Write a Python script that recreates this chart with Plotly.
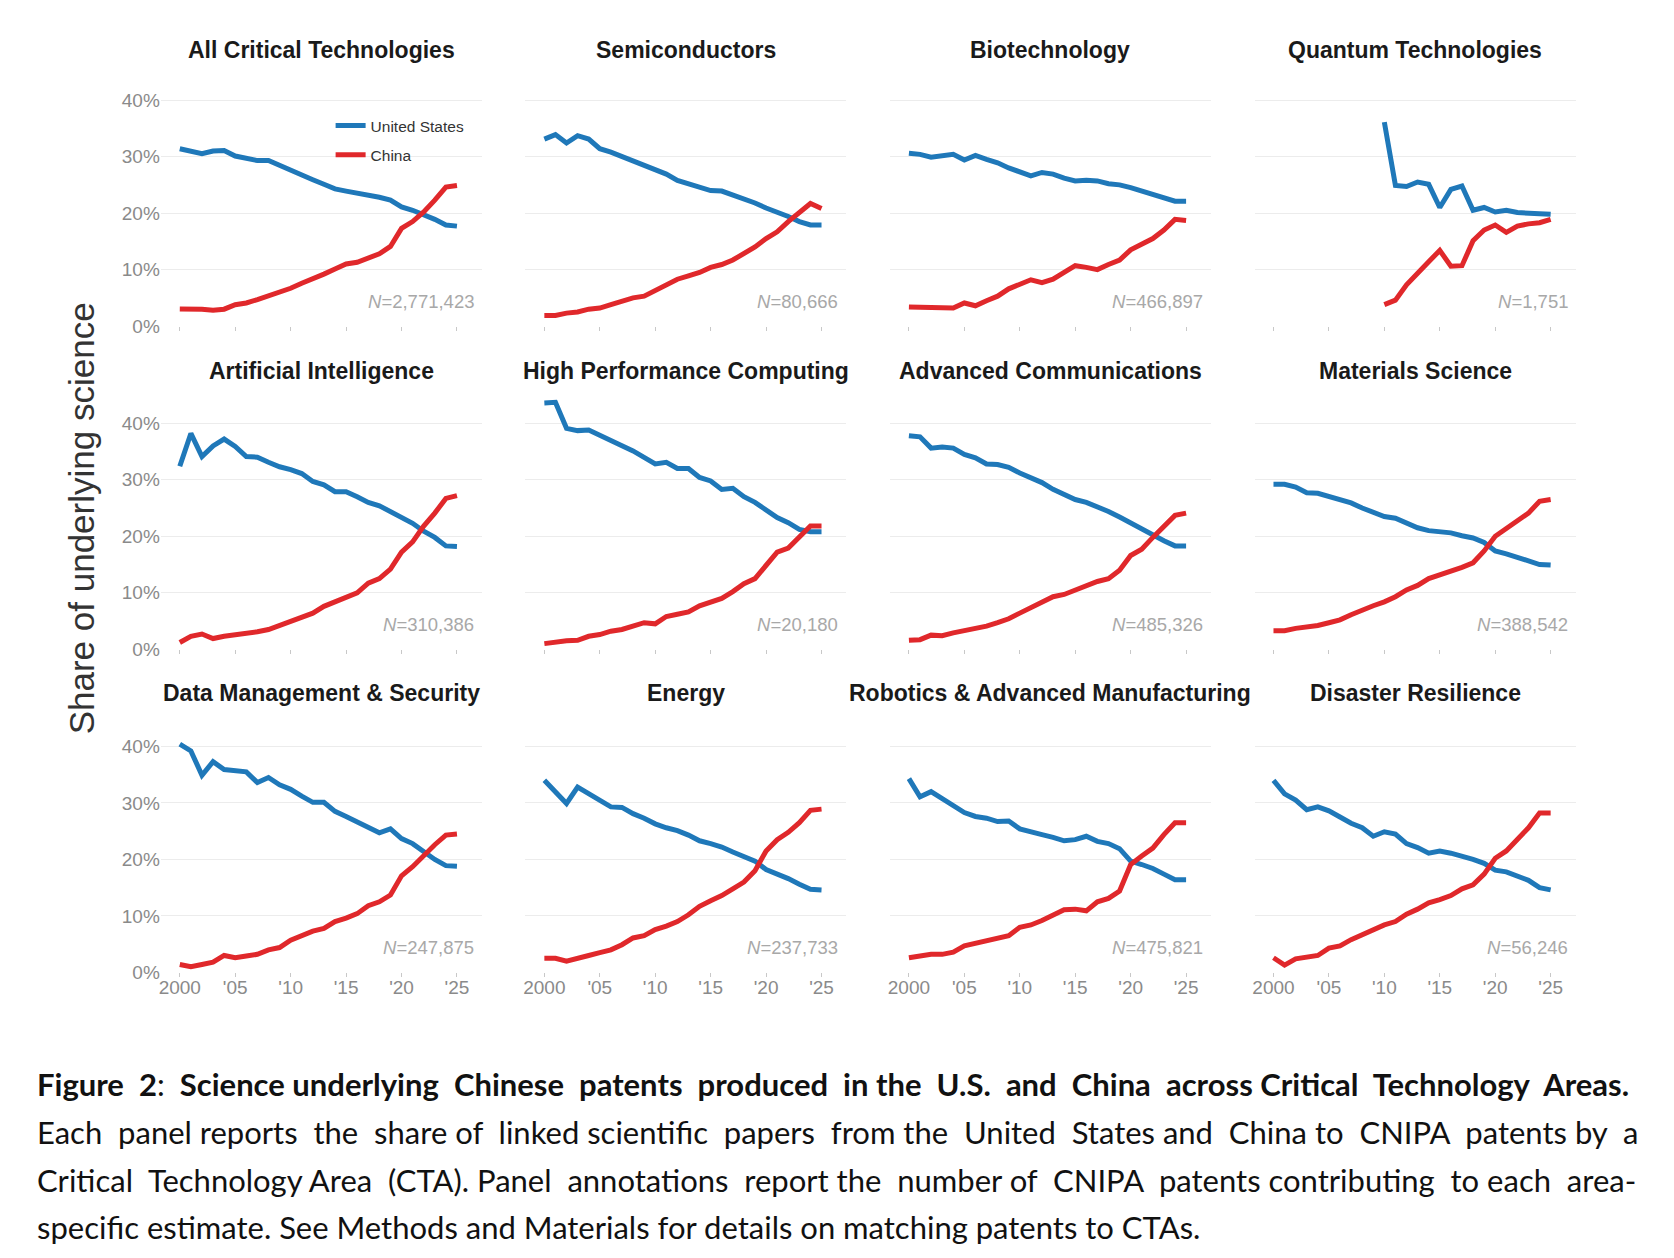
import plotly.graph_objects as go

# ---------------- data ----------------
years = list(range(2000, 2026))
x_tick_vals = [2000, 2005, 2010, 2015, 2020, 2025]
x_tick_text = ["2000", "'05", "'10", "'15", "'20", "'25"]
y_tick_vals = [0, 10, 20, 30, 40]
y_tick_text = ["0%", "10%", "20%", "30%", "40%"]

titles = [
    "All Critical Technologies", "Semiconductors", "Biotechnology", "Quantum Technologies",
    "Artificial Intelligence", "High Performance Computing", "Advanced Communications", "Materials Science",
    "Data Management & Security", "Energy", "Robotics & Advanced Manufacturing", "Disaster Resilience",
]
n_labels = [
    "2,771,423", "80,666", "466,897", "1,751",
    "310,386", "20,180", "485,326", "388,542",
    "247,875", "237,733", "475,821", "56,246",
]

us_all = [31.4, 31.0, 30.5, 31.0, 31.1, 30.1, 29.7, 29.3, 29.3, 28.4, 27.6, 26.7, 25.9,
          25.1, 24.3, 23.9, 23.6, 23.2, 22.8, 22.3, 21.1, 20.5, 19.8, 18.9, 17.9, 17.7]
cn_all = [3.05, 3.05, 3.0, 2.8, 3.0, 3.8, 4.1, 4.7, 5.3, 5.9, 6.7, 7.6, 8.3,
          9.2, 10.1, 11.0, 11.3, 12.0, 12.8, 14.1, 17.3, 18.5, 20.2, 22.3, 24.6, 24.9]

us_semi = [33.1, 33.9, 32.4, 33.7, 33.1, 31.4, 30.8, 30.0, 29.2, 28.4, 27.6, 26.9, 25.8,
           25.2, 24.6, 24.0, 23.9, 23.2, 22.6, 21.8, 20.9, 20.2, 19.4, 18.5, 17.9, 17.9]
cn_semi = [1.9, 1.9, 2.3, 2.5, 3.0, 3.2, 3.8, 4.4, 5.0, 5.3, 6.3, 7.3, 8.3,
           8.9, 9.5, 10.4, 10.9, 11.7, 12.8, 14.0, 15.5, 16.7, 18.5, 20.2, 21.7, 20.8]

us_bio = [30.6, 30.4, 29.9, 30.2, 30.4, 29.4, 30.2, 29.5, 28.9, 28.0, 27.3, 26.6, 27.2,
          26.9, 26.2, 25.7, 25.8, 25.7, 25.2, 25.0, 24.5, 23.9, 23.5, 22.9, 22.1, 22.1]
cn_bio = [3.4, 3.3, 3.4, 3.2, 3.2, 4.1, 3.6, 4.5, 5.3, 6.6, 7.3, 8.2, 7.7,
          8.3, 9.5, 10.7, 10.4, 10.0, 10.9, 11.7, 13.5, 14.5, 15.5, 17.0, 18.9, 18.7]

us_quantum = [None] * 10 + [36.1, 24.9, 24.7, 25.5, 25.1, 21.0, 24.2, 24.8, 20.5, 21.0,
                            20.2, 20.5, 20.1, 19.9, 19.9, 19.8]
cn_quantum = [None] * 10 + [3.8, 4.6, 7.3, 9.5, 11.4, 13.4, 10.6, 10.7, 15.1, 17.0,
                            17.9, 16.6, 17.7, 18.1, 18.3, 18.9]

us_ai = [32.4, 38.2, 34.1, 36.0, 37.2, 35.9, 34.1, 34.0, 33.1, 32.3, 31.8, 31.1, 29.7,
         29.1, 27.9, 27.9, 27.0, 26.0, 25.4, 24.4, 23.3, 22.3, 20.9, 19.8, 18.3, 18.2]
cn_ai = [1.2, 2.3, 2.7, 1.9, 2.3, 2.5, 2.8, 3.1, 3.5, 4.2, 4.9, 5.5, 6.4,
         7.6, 8.4, 9.1, 10.0, 11.7, 12.5, 14.2, 17.2, 19.0, 21.8, 24.1, 26.7, 27.2]

us_hpc = [43.6, 43.7, 39.1, 38.7, 38.8, 37.8, 36.8, 36.0, 35.1, 34.0, 32.8, 33.1, 32.0,
          32.0, 30.4, 29.8, 28.3, 28.5, 27.0, 26.0, 24.7, 23.3, 22.4, 21.2, 20.8, 20.8]
cn_hpc = [1.0, 1.3, 1.5, 1.6, 2.3, 2.6, 3.2, 3.5, 4.1, 4.7, 4.5, 5.8, 6.2,
          6.6, 7.7, 8.3, 9.0, 10.2, 11.6, 12.5, 14.8, 17.2, 17.9, 19.8, 21.8, 21.8]

us_comm = [37.8, 37.6, 35.6, 35.8, 35.6, 34.5, 33.9, 32.8, 32.7, 32.2, 31.2, 30.4, 29.5,
           28.3, 27.3, 26.5, 26.0, 25.3, 24.4, 23.4, 22.3, 21.3, 20.3, 19.2, 18.3, 18.3]
cn_comm = [1.6, 1.7, 2.5, 2.4, 2.9, 3.3, 3.6, 4.1, 4.7, 5.4, 6.4, 7.3, 8.3,
           9.3, 9.7, 10.5, 11.2, 12.0, 12.5, 14.0, 16.6, 17.7, 19.8, 21.8, 23.7, 24.1]

us_mat = [29.2, 29.2, 28.7, 27.7, 27.6, 27.0, 26.5, 25.9, 25.0, 24.3, 23.5, 23.2, 22.4,
          21.5, 21.0, 20.9, 20.6, 20.1, 19.7, 18.9, 17.4, 16.9, 16.2, 15.6, 15.0, 14.9]
cn_mat = [3.3, 3.3, 3.7, 3.9, 4.2, 4.7, 5.2, 6.1, 7.0, 7.7, 8.4, 9.3, 10.5,
          11.3, 12.5, 13.1, 13.7, 14.5, 15.3, 17.4, 20.0, 21.4, 22.6, 24.1, 26.2, 26.5]

us_data = [40.4, 39.2, 34.9, 37.3, 35.9, 35.8, 35.5, 33.6, 34.5, 33.2, 32.4, 31.2, 30.1,
           30.1, 28.5, 27.6, 26.6, 25.6, 24.7, 25.4, 23.7, 22.8, 21.3, 20.0, 18.9, 18.8]
cn_data = [1.4, 1.0, 1.4, 1.8, 3.0, 2.6, 2.9, 3.2, 4.0, 4.4, 5.7, 6.5, 7.3,
           7.8, 9.0, 9.6, 10.4, 11.8, 12.5, 13.7, 17.1, 18.7, 20.7, 22.6, 24.3, 24.5]

us_energy = [34.0, 31.9, 29.9, 32.8, 31.7, 30.5, 29.3, 29.2, 28.1, 27.3, 26.3, 25.6, 25.1,
             24.3, 23.3, 22.8, 22.2, 21.3, 20.6, 19.7, 18.2, 17.5, 16.6, 15.6, 14.7, 14.6]
cn_energy = [2.5, 2.5, 2.0, 2.6, 3.0, 3.5, 4.0, 4.9, 6.1, 6.5, 7.6, 8.2, 9.0,
             10.2, 11.7, 12.7, 13.6, 14.8, 16.0, 18.0, 21.5, 23.5, 24.8, 26.5, 28.7, 28.9]

us_robot = [34.3, 31.1, 32.0, 30.8, 29.5, 28.3, 27.6, 27.3, 26.7, 26.8, 25.4, 24.8, 24.4,
            23.9, 23.3, 23.5, 24.1, 23.2, 22.8, 21.9, 19.7, 19.1, 18.4, 17.4, 16.4, 16.4]
cn_robot = [2.6, 3.0, 3.2, 3.2, 3.6, 4.7, 5.1, 5.7, 6.0, 6.5, 8.0, 8.4, 9.2,
            10.2, 11.1, 11.2, 10.9, 12.5, 13.1, 14.4, 19.1, 20.6, 22.0, 24.4, 26.5, 26.5]

us_disaster = [34.0, 31.6, 30.5, 28.8, 29.3, 28.6, 27.5, 26.4, 25.6, 24.1, 24.9, 24.5, 22.8,
               22.1, 21.1, 21.5, 21.1, 20.6, 20.0, 19.3, 18.1, 17.8, 17.0, 16.3, 15.0, 14.6]
cn_disaster = [2.6, 1.3, 2.4, 2.6, 3.0, 4.3, 4.7, 5.8, 6.7, 7.7, 8.4, 9.0, 10.3,
               11.2, 12.3, 12.9, 13.6, 14.8, 15.5, 17.4, 20.2, 21.5, 23.7, 25.6, 28.2, 28.2]

us_series = [us_all, us_semi, us_bio, us_quantum, us_ai, us_hpc, us_comm, us_mat,
             us_data, us_energy, us_robot, us_disaster]
cn_series = [cn_all, cn_semi, cn_bio, cn_quantum, cn_ai, cn_hpc, cn_comm, cn_mat,
             cn_data, cn_energy, cn_robot, cn_disaster]

caption_lines = [
    "Figure 2: Science underlying Chinese patents produced in the U.S. and China across Critical Technology Areas.",
    "Each panel reports the share of linked scientific papers from the United States and China to CNIPA patents by a",
    "Critical Technology Area (CTA). Panel annotations report the number of CNIPA patents contributing to each area-",
    "specific estimate. See Methods and Materials for details on matching patents to CTAs.",
]

# ---------------- layout geometry ----------------
W, H = 1674, 1258
BLUE = "#1f78b9"
RED = "#e0282b"
SANS = "Liberation Sans, Arial, Helvetica, sans-serif"
NBSP = "\u00a0"


def xp(px):
    return px / W


def yp(py):
    return 1 - py / H


def justify(line, n_extra):
    """Spread n_extra extra spaces evenly over the gaps of a line (emulates justified text)."""
    words = line.split(" ")
    gaps = len(words) - 1
    if n_extra <= 0 or gaps <= 0:
        return line
    out = words[0]
    given = 0
    for g in range(gaps):
        target = round((g + 1) * n_extra / gaps)
        extra = target - given
        given = target
        out += NBSP * extra + " " + words[g + 1]
    return out


tick2000_px = [178, 543, 908, 1273]
zero_px = [329, 655, 981]
title_px = [50, 374, 699]
PX_PER_YR = 11.1
PX_PER_PCT = 5.7
XR = [2000 - 19 / PX_PER_YR, 2025 + 25 / PX_PER_YR]
YR = [0, 45]

fig = go.Figure()
layout = {}
annotations = []

for i in range(12):
    r, c = divmod(i, 4)
    sfx = "" if i == 0 else str(i + 1)
    left = tick2000_px[c] - 19
    right = left + (XR[1] - XR[0]) * PX_PER_YR
    bottom = zero_px[r]
    top = bottom - (YR[1] - YR[0]) * PX_PER_PCT

    fig.add_trace(go.Scatter(
        x=years, y=us_series[i], mode="lines", name="United States",
        line=dict(color=BLUE, width=5), xaxis="x" + sfx, yaxis="y" + sfx,
        showlegend=(i == 0), legendgroup="us", connectgaps=False,
    ))
    fig.add_trace(go.Scatter(
        x=years, y=cn_series[i], mode="lines", name="China",
        line=dict(color=RED, width=5), xaxis="x" + sfx, yaxis="y" + sfx,
        showlegend=(i == 0), legendgroup="cn", connectgaps=False,
    ))

    layout["xaxis" + sfx] = dict(
        domain=[xp(left), xp(right)], anchor="y" + sfx, range=XR,
        tickvals=x_tick_vals, ticktext=x_tick_text,
        showticklabels=(r == 2), ticks="outside", ticklen=4, tickcolor="#c8c8c8",
        ticklabelstandoff=-6,
        showgrid=False, zeroline=False, showline=False,
        tickfont=dict(family=SANS, size=19, color="#8a8a8a"),
        fixedrange=True,
    )
    layout["yaxis" + sfx] = dict(
        domain=[yp(bottom), yp(top)], anchor="x" + sfx, range=YR,
        tickvals=y_tick_vals, ticktext=y_tick_text,
        showticklabels=(c == 0), ticks="", showgrid=True, gridcolor="#ececec",
        gridwidth=1, zeroline=False, showline=False,
        tickfont=dict(family=SANS, size=19, color="#8a8a8a"),
        fixedrange=True,
    )

    # panel title
    annotations.append(dict(
        text="<b>" + titles[i].replace("&", "&amp;") + "</b>",
        xref="paper", yref="paper", x=xp((left + right) / 2), y=yp(title_px[r]),
        xanchor="center", yanchor="middle", showarrow=False,
        font=dict(family=SANS, size=23, color="#1a1a1a"),
    ))
    # N annotation
    annotations.append(dict(
        text="<i>N</i>=" + n_labels[i],
        xref="paper", yref="paper", x=xp(right - 6), y=yp(bottom - 25),
        xanchor="right", yanchor="middle", showarrow=False,
        font=dict(family=SANS, size=18.5, color="#a8a8a8"),
    ))

# y axis title
annotations.append(dict(
    text="Share of underlying science", textangle=-90,
    xref="paper", yref="paper", x=xp(80), y=yp(523),
    xanchor="center", yanchor="middle", showarrow=False,
    font=dict(family=SANS, size=35, color="#333333"),
))

# caption (first three lines justified to the right margin)
extra_spaces = [12, 12, 9, 0]
caption_y = [1094, 1142, 1190, 1238]
for k, (txt, n_extra, cy) in enumerate(zip(caption_lines, extra_spaces, caption_y)):
    s = justify(txt, n_extra)
    if k == 0:
        head, tail = s.split(":", 1)
        s = "<b>" + head + "</b>:<b>" + tail + "</b>"
    annotations.append(dict(
        text=s, xref="paper", yref="paper", x=xp(33), y=yp(cy),
        xanchor="left", yanchor="middle", showarrow=False,
        font=dict(family="Lato, Noto Sans, sans-serif", size=31, color="#111111"),
    ))

fig.update_layout(
    width=W, height=H, margin=dict(l=0, r=0, t=0, b=0),
    paper_bgcolor="white", plot_bgcolor="white",
    annotations=annotations,
    legend=dict(
        x=xp(329), y=yp(110), xanchor="left", yanchor="top",
        bgcolor="rgba(0,0,0,0)", font=dict(family=SANS, size=15.5, color="#333333"),
        itemwidth=30, tracegroupgap=6, traceorder="grouped",
    ),
    **layout,
)

fig.write_html("out.html")
